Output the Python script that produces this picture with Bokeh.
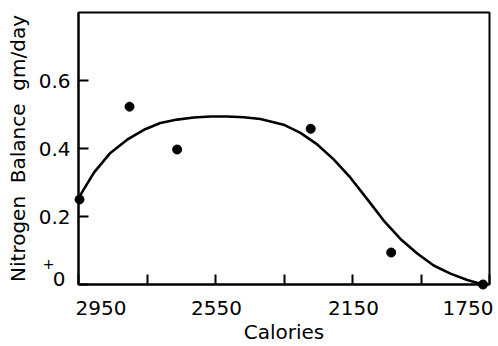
from bokeh.plotting import figure
from bokeh.models import ColumnDataSource, FixedTicker, Range1d
from bokeh.core.properties import value
from bokeh.embed import file_html
from bokeh.resources import INLINE

# observed points
point_calories = [2947, 2801, 2662, 2272, 2037, 1769]
point_balance = [0.250, 0.523, 0.397, 0.458, 0.094, 0.0]

# fitted curve
curve_calories = [2950, 2905, 2857, 2808, 2759, 2711, 2662, 2613, 2565, 2516,
                  2467, 2419, 2351, 2302, 2253, 2205, 2156, 2107, 2059, 2010,
                  1961, 1913, 1864, 1815, 1769]
curve_balance = [0.254, 0.329, 0.387, 0.426, 0.455, 0.475, 0.485, 0.491, 0.494, 0.494,
                 0.492, 0.487, 0.470, 0.446, 0.412, 0.368, 0.314, 0.251, 0.188, 0.134,
                 0.091, 0.056, 0.032, 0.013, 0.0]

x_ticks = [2950, 2750, 2550, 2350, 2150, 1950, 1750]
x_tick_labels = ["2950", "2550", "2150", "1750"]
x_label_values = [2950, 2550, 2150, 1750]
y_ticks = [0, 0.2, 0.4, 0.6]
y_tick_labels = {0: "", 0.2: "0.2", 0.4: "0.4", 0.6: "0.6"}

FONT = "DejaVu Sans"
NB = "\u00a0"

p = figure(width=498, height=346, output_backend="svg", toolbar_location=None,
           x_range=Range1d(2950, 1750), y_range=Range1d(0, 0.8),
           min_border_left=78, min_border_right=9, min_border_top=12, min_border_bottom=60)
p.background_fill_color = "white"
p.border_fill_color = "white"
p.outline_line_color = "black"
p.outline_line_width = 2
p.xgrid.visible = False
p.ygrid.visible = False

for ax in (p.xaxis[0], p.yaxis[0]):
    ax.axis_line_width = 2
    ax.axis_line_color = "black"
    ax.major_tick_line_width = 2
    ax.major_tick_in = 10
    ax.major_tick_out = 0
    ax.minor_tick_line_color = None
    ax.major_label_text_font = FONT
    ax.major_label_text_font_size = "20px"
    ax.major_label_text_color = "black"
    ax.axis_label_text_font = FONT
    ax.axis_label_text_font_size = "20px"
    ax.axis_label_text_font_style = "normal"
    ax.axis_label_text_color = "black"

p.xaxis.ticker = FixedTicker(ticks=x_ticks)
p.xaxis.major_label_overrides = {t: "" for t in x_ticks}
p.xaxis.major_label_standoff = 0
p.xaxis.axis_label = "Calories"
p.xaxis.axis_label_standoff = 35

p.yaxis.ticker = FixedTicker(ticks=y_ticks)
p.yaxis.major_label_overrides = y_tick_labels
p.yaxis.major_label_standoff = 8
p.yaxis.axis_label = "Nitrogen" + NB + NB + "Balance" + NB + NB + "gm/day"
p.yaxis.axis_label_standoff = 6

# curve
p.line(curve_calories, curve_balance, line_color="black", line_width=2.6)

# points
pts = p.scatter(point_calories, point_balance, size=9, color="black")
pts.level = "overlay"

# x tick labels
src = ColumnDataSource(dict(x=x_label_values, y=[0] * 4, t=x_tick_labels,
                            align=["left", "center", "center", "right"],
                            xo=[-3, 1, 1, 4]))
tl = p.text(x="x", y="y", text="t", source=src, text_align="align", x_offset="xo",
            y_offset=23, text_baseline="alphabetic", text_font=value(FONT),
            text_font_size="20px", text_color="black")
tl.level = "overlay"

# "0" and the small "+" beside it
z = p.text(x=[2950], y=[0], text=["0"], x_offset=-13, y_offset=-6, text_align="right",
           text_baseline="middle", text_font=value(FONT), text_font_size="20px",
           text_color="black")
z.level = "overlay"
pl = p.text(x=[2950], y=[0], text=["+"], x_offset=-30, y_offset=-21, text_align="center",
            text_baseline="middle", text_font=value(FONT), text_font_size="14px",
            text_color="black")
pl.level = "overlay"

open("out.html", "w").write(file_html(p, INLINE))
